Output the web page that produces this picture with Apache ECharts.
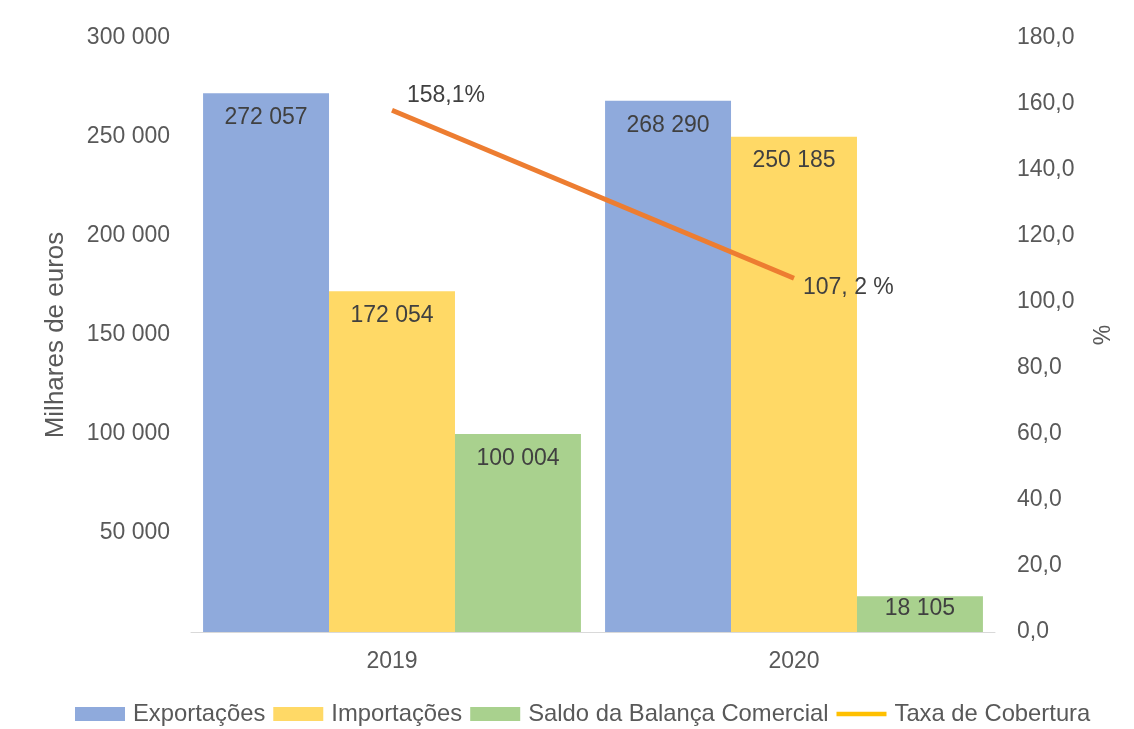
<!DOCTYPE html>
<html lang="pt">
<head>
    <meta charset="UTF-8">
    <title>Balança Comercial</title>
    <script src="https://cdn.jsdelivr.net/npm/echarts@6/dist/echarts.min.js"></script>
    <style>
        html, body { margin: 0; padding: 0; background: #fff; }
        #chart { width: 1134px; height: 729px; }
    </style>
</head>
<body>
    <div id="chart"></div>
<script>
    var anos = ['2019', '2020'];
    var exportacoes = [272057, 268290];
    var importacoes = [172054, 250185];
    var saldo = [100004, 18105];
    var taxa = [158.1, 107.2];
    var taxaLabels = ['158,1%', '107, 2 %'];

    var fonte = 'Liberation Sans, Arial, sans-serif';

    function milhares(v) {
        return String(v).replace(/\B(?=(\d{3})+(?!\d))/g, ' ');
    }

    var myChart = echarts.init(document.getElementById('chart'));

    var barLabel = {
        show: true,
        position: 'insideTop',
        distance: 13,
        color: '#404040',
        fontSize: 23,
        fontFamily: fonte,
        formatter: function (p) { return milhares(p.value); }
    };

    var option = {
        animation: false,
        textStyle: { fontFamily: fonte },
        grid: { left: 191, right: 139, top: 38, bottom: 97 },
        legend: {
            top: 697,
            left: 70,
            itemWidth: 50,
            itemHeight: 14,
            itemGap: 8,
            textStyle: { fontSize: 23.8, color: '#595959', fontFamily: fonte, padding: [0, 0, 0, 3] },
            data: [
                { name: 'Exportações', icon: 'rect' },
                { name: 'Importações', icon: 'rect' },
                { name: 'Saldo da Balança Comercial', icon: 'rect' },
                { name: 'Taxa de Cobertura', icon: 'path://M0,0 L50,0 L50,4.5 L0,4.5 Z', itemStyle: { color: '#FFC000' } }
            ]
        },
        xAxis: {
            type: 'category',
            data: anos,
            axisLine: { lineStyle: { color: '#d9d9d9', width: 1 } },
            axisTick: { show: false },
            axisLabel: { color: '#595959', fontSize: 23, margin: 18 }
        },
        yAxis: [{
            type: 'value',
            min: 0,
            max: 300000,
            interval: 50000,
            name: 'Milhares de euros',
            nameLocation: 'middle',
            nameGap: 122,
            nameRotate: 90,
            nameTextStyle: { color: '#595959', fontSize: 26 },
            splitLine: { show: false },
            axisLine: { show: false },
            axisTick: { show: false },
            axisLabel: {
                color: '#595959',
                fontSize: 23,
                margin: 21,
                formatter: function (v) { return v === 0 ? '' : milhares(v); }
            }
        }, {
            type: 'value',
            min: 0,
            max: 180,
            interval: 20,
            name: '%',
            nameLocation: 'middle',
            nameGap: 97,
            nameRotate: 90,
            nameTextStyle: { color: '#595959', fontSize: 23 },
            splitLine: { show: false },
            axisLine: { show: false },
            axisTick: { show: false },
            axisLabel: {
                color: '#595959',
                fontSize: 23,
                margin: 22,
                formatter: function (v) { return v.toFixed(1).replace('.', ','); }
            }
        }],
        series: [{
            name: 'Exportações',
            type: 'bar',
            data: exportacoes,
            barGap: '0%',
            barCategoryGap: '6%',
            itemStyle: { color: '#8FAADC' },
            label: barLabel
        }, {
            name: 'Importações',
            type: 'bar',
            data: importacoes,
            itemStyle: { color: '#FFD966' },
            label: barLabel
        }, {
            name: 'Saldo da Balança Comercial',
            type: 'bar',
            data: saldo.map(function (v, i) {
                return i === 1 ? { value: v, label: { distance: 1 } } : v;
            }),
            itemStyle: { color: '#A9D18E' },
            label: barLabel
        }, {
            name: 'Taxa de Cobertura',
            type: 'line',
            yAxisIndex: 1,
            symbol: 'none',
            z: 5,
            lineStyle: { color: '#ED7D31', width: 5 },
            itemStyle: { color: '#ED7D31' },
            data: taxa
        }, {
            // rótulos da taxa (série invisível, fora da legenda)
            name: 'Taxa rótulos',
            type: 'scatter',
            yAxisIndex: 1,
            symbolSize: 0,
            silent: true,
            z: 6,
            itemStyle: { opacity: 1 },
            data: taxa.map(function (v, i) {
                return {
                    value: v,
                    label: {
                        show: true,
                        position: 'right',
                        distance: 0,
                        offset: i === 0 ? [15, -15] : [9, 9],
                        color: '#404040',
                        fontSize: 23,
                        formatter: taxaLabels[i]
                    }
                };
            })
        }]
    };

    myChart.setOption(option);

    window.onresize = function () {
        myChart.resize();
    };
</script>
</body>
</html>
